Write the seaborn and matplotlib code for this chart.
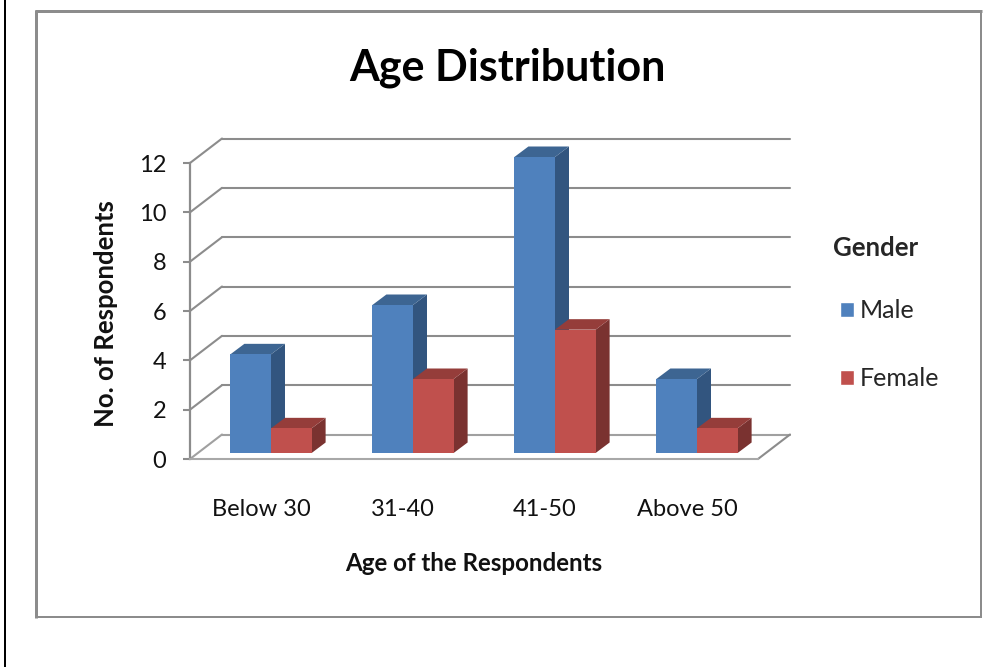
import matplotlib
matplotlib.use("Agg")
import matplotlib.pyplot as plt
from matplotlib.lines import Line2D
from matplotlib.patches import Polygon, Patch
from matplotlib.transforms import Affine2D
import pandas as pd
import seaborn as sns

categories = ["Below 30", "31-40", "41-50", "Above 50"]
male = [4, 6, 12, 3]
female = [1, 3, 5, 1]
y_ticks = [0, 2, 4, 6, 8, 10, 12]

W, H = 987, 667
GRID = "#8c8c8c"
sns.set_style("white")
plt.rcParams["font.family"] = ["Lato", "DejaVu Sans"]

df = pd.DataFrame({
    "Age": categories * 2,
    "Count": male + female,
    "Gender": ["Male"] * 4 + ["Female"] * 4,
})
palette = {"Male": "#4f81bd", "Female": "#c0504d"}
top_col = {"Male": "#3d6592", "Female": "#953d3a"}
side_col = {"Male": "#32557f", "Female": "#7a3230"}

fig = plt.figure(figsize=(W / 100, H / 100), dpi=100, facecolor="white")
ax = fig.add_axes([190 / W, 1 - 459 / H, (758 - 190) / W, (459 - 163) / H])
ax.patch.set_alpha(0)
sns.barplot(data=df, x="Age", y="Count", hue="Gender", hue_order=["Male", "Female"],
            palette=palette, width=0.572, gap=0, saturation=1, legend=False, ax=ax)
ax.set_ylim(0, 12)
ax.set_xlim(-0.5, 3.5)
ax.set_yticks(y_ticks)

ux = (758 - 190) / 4   # pixels per category
uy = (459 - 163) / 12  # pixels per y unit

# back wall and floor, offset from the front plane
wx, wy = 32 / ux, 24.5 / uy
xl, xr = ax.get_xlim()
for v in y_ticks:
    col = "#a0a0a0" if v == 0 else GRID
    ax.plot([xl + wx, xr + wx], [v + wy, v + wy], color=col, lw=1.5, clip_on=False, zorder=1)
    ax.plot([xl, xl + wx], [v, v + wy], color=col, lw=1.5, clip_on=False, zorder=1)
ax.plot([xr, xr + wx], [0, wy], color=GRID, lw=1.5, clip_on=False, zorder=1)

# bars sit slightly inside the floor, with extruded side and top faces
shift_x, shift_y = 10, 6
shift = Affine2D().translate(shift_x, shift_y)
ox, oy = shift_x / ux, shift_y / uy
dx, dy = 14 / ux, 10.5 / uy
bars = sorted(ax.patches, key=lambda b: b.get_x())
z = 3
for b in bars:
    name = "Male" if b.get_facecolor()[:3] == matplotlib.colors.to_rgb(palette["Male"]) else "Female"
    x0, x1, h = b.get_x() + ox, b.get_x() + b.get_width() + ox, b.get_height() + oy
    base = oy
    ax.add_patch(Polygon([(x1, base), (x1 + dx, base + dy), (x1 + dx, h + dy), (x1, h)],
                         fc=side_col[name], ec="none", clip_on=False, zorder=z))
    ax.add_patch(Polygon([(x0, h), (x0 + dx, h + dy), (x1 + dx, h + dy), (x1, h)],
                         fc=top_col[name], ec="none", clip_on=False, zorder=z + 1))
    b.set_transform(ax.transData + shift)
    b.set_clip_on(False)
    b.set_edgecolor("none")
    b.set_linewidth(0)
    b.set_zorder(z + 2)
    z += 3

sns.despine(ax=ax, top=True, right=True)
ax.spines["left"].set_color(GRID)
ax.spines["left"].set_linewidth(1.6)
ax.spines["bottom"].set_color("#a8a8a8")
ax.spines["bottom"].set_linewidth(1.5)
ax.tick_params(axis="y", left=True, length=5, width=1.5, color=GRID, labelsize=17, pad=12, labelcolor="#111111")
ax.tick_params(axis="x", bottom=False, labelsize=17, pad=25.5, labelcolor="#111111")
for lab in ax.get_yticklabels():
    lab.set_verticalalignment("center_baseline")
ax.set_xlabel("Age of the Respondents", fontsize=17.4, fontweight="bold", labelpad=23, color="#111111")
ax.set_ylabel("No. of Respondents", fontsize=18.5, fontweight="bold", labelpad=15, color="#111111", y=0.493)
fig.text(507 / W, 1 - 68 / H, "Age Distribution", fontsize=31, fontweight="bold",
         ha="center", va="center", color="black")

handles = [Patch(fc=palette["Male"], label="Male"), Patch(fc=palette["Female"], label="Female")]
leg = ax.legend(handles=handles, title="Gender", loc="upper left", frameon=False,
                bbox_to_anchor=(826 / W, 1 - 228 / H), bbox_transform=fig.transFigure,
                fontsize=18, title_fontsize=18.5, labelspacing=1.8, handlelength=0.55,
                handleheight=0.55, handletextpad=0.22, borderaxespad=0, borderpad=0.3)
leg.get_title().set_fontweight("bold")
leg._legend_box.align = "left"
leg._legend_box.sep = 24
leg._legend_handle_box.pad = 4.7

# outer chart frame and page rule, placed in figure pixels
def rule(x0, y0, x1, y1, color, px):
    fig.add_artist(Line2D([x0 / W, x1 / W], [1 - y0 / H, 1 - y1 / H], color=color,
                          lw=px * 0.72, solid_capstyle="butt"))

rule(36, 10, 36, 618, GRID, 3)
rule(35, 11, 982, 11, GRID, 3)
rule(981, 10, 981, 618, GRID, 2)
rule(35, 617, 982, 617, GRID, 2)
rule(5.5, 0, 5.5, 667, "black", 2)

fig.savefig("out.png", dpi=100)
